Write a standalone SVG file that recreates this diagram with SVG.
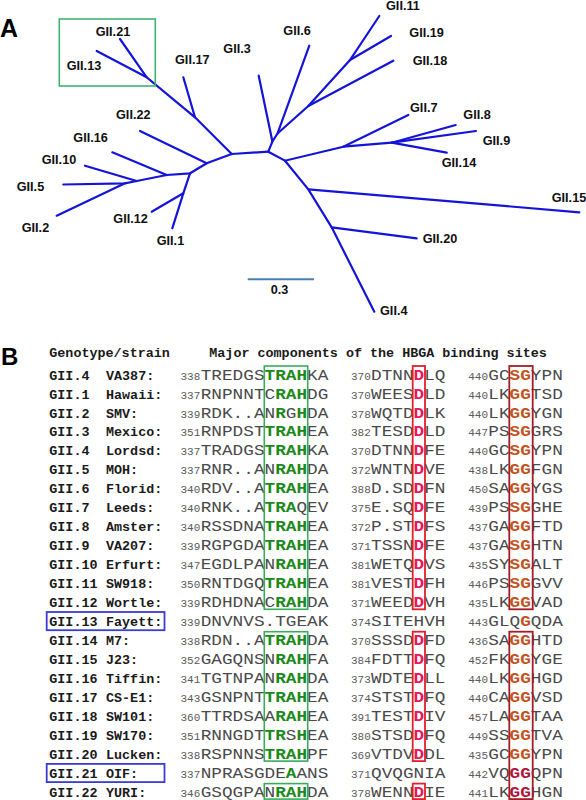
<svg xmlns="http://www.w3.org/2000/svg" width="586" height="800" viewBox="0 0 586 800">
<style>
.pl{font-family:"Liberation Sans",Arial,sans-serif;font-weight:bold;fill:#000}
.lf{font-family:"Liberation Sans",Arial,sans-serif;font-weight:bold;font-size:12.7px;fill:#111}
.br{stroke:#1414d8;stroke-width:2.2;fill:none;stroke-linecap:round}
.hd{font-family:"Liberation Mono","Courier New",monospace;font-weight:bold;font-size:13.4px;fill:#1a1a1a}
.n{font-family:"Liberation Mono","Courier New",monospace;font-size:11px;fill:#5a5a5a;text-anchor:end}
.s{font-family:"Liberation Mono","Courier New",monospace;font-size:14.5px;fill:#4a4a4a}
.g{font-weight:bold;fill:#1a8a1a}
.d{font-weight:bold;fill:#e8185a}
.o{font-weight:bold;fill:#c4521c}
.c{font-weight:bold;fill:#b3123a}
.gb{fill:none;stroke:#3aaa5c;stroke-width:1.6}
.rb{fill:none;stroke:#e02028;stroke-width:1.8}
.kb{fill:none;stroke:#a41c26;stroke-width:1.8}
.bb{fill:none;stroke:#3b3bd6;stroke-width:1.8}
</style>

<text class="pl" x="0" y="36.5" font-size="25">A</text>
<text class="pl" x="1" y="365" font-size="24">B</text>

<!-- Tree connectors -->
<g id="connectors">
<path class="br" d="M231.7,154 L268.3,151.7"/>
<path class="br" d="M231.7,154 L195,117.3 L146.7,77.3 L120,39"/>
<path class="br" d="M146.7,77.3 L96.7,51"/>
<path class="br" d="M195,117.3 L183.3,77.3"/>
<path class="br" d="M231.7,154 L206.7,163.3 L190,173.3 L166.7,175 L136.7,181 L125,183.3 L63.3,184.5"/>
<path class="br" d="M206.7,163.3 L140,131"/>
<path class="br" d="M190,173.3 L183.3,193.3 L172.3,228.3"/>
<path class="br" d="M183.3,193.3 L151.7,211.7"/>
<path class="br" d="M166.7,175 L112.3,152.3"/>
<path class="br" d="M136.7,181 L85,165.7"/>
<path class="br" d="M125,183.3 L56.7,215.7"/>
<path class="br" d="M268.3,151.7 L272.4,141.5 L277.5,133.5 L309.3,45.7"/>
<path class="br" d="M272.4,141.5 L258.7,75.7"/>
<path class="br" d="M277.5,133.5 L308.3,106 L350,60 L379.3,16"/>
<path class="br" d="M350,60 L391,36"/>
<path class="br" d="M308.3,106 L393.3,60.7"/>
<path class="br" d="M268.3,151.7 L285,160.7 L343.3,146.7 L408.3,115"/>
<path class="br" d="M343.3,146.7 L391.7,142.7 L455.7,125"/>
<path class="br" d="M391.7,142.7 L476,131"/>
<path class="br" d="M391.7,142.7 L446.7,152.7"/>
<path class="br" d="M285,160.7 L308.3,189.3 L331.7,227.3 L374.3,311.7"/>
<path class="br" d="M308.3,189.3 L579.3,212.3"/>
<path class="br" d="M331.7,227.3 L416.7,238.3"/>
</g>

<rect x="59.3" y="19" width="96" height="67" fill="none" stroke="#3cb371" stroke-width="1.6"/>

<!-- Tree leaves -->
<g id="GII21"><text class="lf" x="95.7" y="35.7">GII.21</text></g>
<g id="GII13"><text class="lf" x="66.7" y="70">GII.13</text></g>
<g id="GII17"><text class="lf" x="175" y="64.3">GII.17</text></g>
<g id="GII3"><text class="lf" x="223.3" y="52.7">GII.3</text></g>
<g id="GII22"><text class="lf" x="116" y="118.7">GII.22</text></g>
<g id="GII16"><text class="lf" x="73.3" y="142">GII.16</text></g>
<g id="GII10"><text class="lf" x="41.7" y="164">GII.10</text></g>
<g id="GII5"><text class="lf" x="16.7" y="190.7">GII.5</text></g>
<g id="GII2"><text class="lf" x="21.7" y="231.7">GII.2</text></g>
<g id="GII12"><text class="lf" x="113.3" y="223.3">GII.12</text></g>
<g id="GII1"><text class="lf" x="156.7" y="245.3">GII.1</text></g>
<g id="GII6"><text class="lf" x="283.3" y="35">GII.6</text></g>
<g id="GII11"><text class="lf" x="386" y="10">GII.11</text></g>
<g id="GII19"><text class="lf" x="409.3" y="36.7">GII.19</text></g>
<g id="GII18"><text class="lf" x="412.7" y="65">GII.18</text></g>
<g id="GII7"><text class="lf" x="410" y="112">GII.7</text></g>
<g id="GII8"><text class="lf" x="463.3" y="119.3">GII.8</text></g>
<g id="GII9"><text class="lf" x="482.7" y="145">GII.9</text></g>
<g id="GII14"><text class="lf" x="441.7" y="166.7">GII.14</text></g>
<g id="GII15"><text class="lf" x="551.7" y="201.5">GII.15</text></g>
<g id="GII20"><text class="lf" x="422.7" y="243.3">GII.20</text></g>
<g id="GII4"><text class="lf" x="380" y="315">GII.4</text></g>

<g id="scalebar">
<line x1="247.7" y1="279.3" x2="314" y2="279.3" stroke="#4a7fb5" stroke-width="2"/>
<text class="lf" x="270.7" y="294">0.3</text>
</g>

<!-- Part B table -->
<g id="table">
<text class="hd" x="49.3" y="357">Genotype/strain</text>
<text class="hd" x="209.3" y="357">Major components of the HBGA binding sites</text>

<g class="hd">
<text class="hd" x="49.3" y="379.5">GII.4</text><text class="hd" x="106" y="379.5">VA387:</text>
<text class="hd" x="49.3" y="398.5">GII.1</text><text class="hd" x="106" y="398.5">Hawaii:</text>
<text class="hd" x="49.3" y="417.5">GII.2</text><text class="hd" x="106" y="417.5">SMV:</text>
<text class="hd" x="49.3" y="436.4">GII.3</text><text class="hd" x="106" y="436.4">Mexico:</text>
<text class="hd" x="49.3" y="455.4">GII.4</text><text class="hd" x="106" y="455.4">Lordsd:</text>
<text class="hd" x="49.3" y="474.4">GII.5</text><text class="hd" x="106" y="474.4">MOH:</text>
<text class="hd" x="49.3" y="493.4">GII.6</text><text class="hd" x="106" y="493.4">Florid:</text>
<text class="hd" x="49.3" y="512.4">GII.7</text><text class="hd" x="106" y="512.4">Leeds:</text>
<text class="hd" x="49.3" y="531.3">GII.8</text><text class="hd" x="106" y="531.3">Amster:</text>
<text class="hd" x="49.3" y="550.3">GII.9</text><text class="hd" x="106" y="550.3">VA207:</text>
<text class="hd" x="49.3" y="569.3">GII.10</text><text class="hd" x="106" y="569.3">Erfurt:</text>
<text class="hd" x="49.3" y="588.3">GII.11</text><text class="hd" x="106" y="588.3">SW918:</text>
<text class="hd" x="49.3" y="607.3">GII.12</text><text class="hd" x="106" y="607.3">Wortle:</text>
<text class="hd" x="49.3" y="626.2">GII.13</text><text class="hd" x="106" y="626.2">Fayett:</text>
<text class="hd" x="49.3" y="645.2">GII.14</text><text class="hd" x="106" y="645.2">M7:</text>
<text class="hd" x="49.3" y="664.2">GII.15</text><text class="hd" x="106" y="664.2">J23:</text>
<text class="hd" x="49.3" y="683.2">GII.16</text><text class="hd" x="106" y="683.2">Tiffin:</text>
<text class="hd" x="49.3" y="702.2">GII.17</text><text class="hd" x="106" y="702.2">CS-E1:</text>
<text class="hd" x="49.3" y="721.1">GII.18</text><text class="hd" x="106" y="721.1">SW101:</text>
<text class="hd" x="49.3" y="740.1">GII.19</text><text class="hd" x="106" y="740.1">SW170:</text>
<text class="hd" x="49.3" y="759.1">GII.20</text><text class="hd" x="106" y="759.1">Lucken:</text>
<text class="hd" x="49.3" y="778.1">GII.21</text><text class="hd" x="106" y="778.1">OIF:</text>
<text class="hd" x="49.3" y="797.1">GII.22</text><text class="hd" x="106" y="797.1">YURI:</text>
</g>

<rect class="bb" x="46.7" y="612" width="117.8" height="18.2"/>
<rect class="bb" x="46.7" y="763.9" width="117.8" height="18.2"/>

<!-- numbers -->
<g>
<text class="n" x="200.3" y="379.5">338</text><text class="n" x="370.8" y="379.5">370</text><text class="n" x="488" y="379.5">440</text>
<text class="n" x="200.3" y="398.5">337</text><text class="n" x="370.8" y="398.5">370</text><text class="n" x="488" y="398.5">440</text>
<text class="n" x="200.3" y="417.5">339</text><text class="n" x="370.8" y="417.5">378</text><text class="n" x="488" y="417.5">440</text>
<text class="n" x="200.3" y="436.4">351</text><text class="n" x="370.8" y="436.4">382</text><text class="n" x="488" y="436.4">447</text>
<text class="n" x="200.3" y="455.4">337</text><text class="n" x="370.8" y="455.4">370</text><text class="n" x="488" y="455.4">440</text>
<text class="n" x="200.3" y="474.4">337</text><text class="n" x="370.8" y="474.4">372</text><text class="n" x="488" y="474.4">438</text>
<text class="n" x="200.3" y="493.4">340</text><text class="n" x="370.8" y="493.4">388</text><text class="n" x="488" y="493.4">450</text>
<text class="n" x="200.3" y="512.4">340</text><text class="n" x="370.8" y="512.4">375</text><text class="n" x="488" y="512.4">439</text>
<text class="n" x="200.3" y="531.3">340</text><text class="n" x="370.8" y="531.3">372</text><text class="n" x="488" y="531.3">437</text>
<text class="n" x="200.3" y="550.3">339</text><text class="n" x="370.8" y="550.3">371</text><text class="n" x="488" y="550.3">437</text>
<text class="n" x="200.3" y="569.3">347</text><text class="n" x="370.8" y="569.3">381</text><text class="n" x="488" y="569.3">435</text>
<text class="n" x="200.3" y="588.3">350</text><text class="n" x="370.8" y="588.3">381</text><text class="n" x="488" y="588.3">446</text>
<text class="n" x="200.3" y="607.3">339</text><text class="n" x="370.8" y="607.3">371</text><text class="n" x="488" y="607.3">435</text>
<text class="n" x="200.3" y="626.2">339</text><text class="n" x="370.8" y="626.2">374</text><text class="n" x="488" y="626.2">443</text>
<text class="n" x="200.3" y="645.2">338</text><text class="n" x="370.8" y="645.2">370</text><text class="n" x="488" y="645.2">436</text>
<text class="n" x="200.3" y="664.2">352</text><text class="n" x="370.8" y="664.2">384</text><text class="n" x="488" y="664.2">452</text>
<text class="n" x="200.3" y="683.2">341</text><text class="n" x="370.8" y="683.2">373</text><text class="n" x="488" y="683.2">440</text>
<text class="n" x="200.3" y="702.2">343</text><text class="n" x="370.8" y="702.2">374</text><text class="n" x="488" y="702.2">440</text>
<text class="n" x="200.3" y="721.1">360</text><text class="n" x="370.8" y="721.1">391</text><text class="n" x="488" y="721.1">457</text>
<text class="n" x="200.3" y="740.1">351</text><text class="n" x="370.8" y="740.1">380</text><text class="n" x="488" y="740.1">449</text>
<text class="n" x="200.3" y="759.1">338</text><text class="n" x="370.8" y="759.1">369</text><text class="n" x="488" y="759.1">435</text>
<text class="n" x="200.3" y="778.1">337</text><text class="n" x="370.8" y="778.1">371</text><text class="n" x="488" y="778.1">442</text>
<text class="n" x="200.3" y="797.1">346</text><text class="n" x="370.8" y="797.1">378</text><text class="n" x="488" y="797.1">441</text>
</g>

<!-- column 1 sequences -->
<g>
<text class="s" transform="translate(200.7,379.5) scale(1.223,1)">TREDGS<tspan class="g">TRAH</tspan>KA</text>
<text class="s" transform="translate(200.7,398.5) scale(1.223,1)">RNPNNTC<tspan class="g">RAH</tspan>DG</text>
<text class="s" transform="translate(200.7,417.5) scale(1.223,1)">RDK..AN<tspan class="g">R</tspan>G<tspan class="g">H</tspan>DA</text>
<text class="s" transform="translate(200.7,436.4) scale(1.223,1)">RNPDST<tspan class="g">TRAH</tspan>EA</text>
<text class="s" transform="translate(200.7,455.4) scale(1.223,1)">TRADGS<tspan class="g">TRAH</tspan>KA</text>
<text class="s" transform="translate(200.7,474.4) scale(1.223,1)">RNR..AN<tspan class="g">RAH</tspan>DA</text>
<text class="s" transform="translate(200.7,493.4) scale(1.223,1)">RDV..A<tspan class="g">TRAH</tspan>EA</text>
<text class="s" transform="translate(200.7,512.4) scale(1.223,1)">RNK..A<tspan class="g">TRA</tspan>QEV</text>
<text class="s" transform="translate(200.7,531.3) scale(1.223,1)">RSSDNA<tspan class="g">TRAH</tspan>EA</text>
<text class="s" transform="translate(200.7,550.3) scale(1.223,1)">RGPGDA<tspan class="g">TRAH</tspan>EA</text>
<text class="s" transform="translate(200.7,569.3) scale(1.223,1)">EGDLPAN<tspan class="g">RAH</tspan>EA</text>
<text class="s" transform="translate(200.7,588.3) scale(1.223,1)">RNTDGQ<tspan class="g">TRAH</tspan>EA</text>
<text class="s" transform="translate(200.7,607.3) scale(1.223,1)">RDHDNAC<tspan class="g">RAH</tspan>DA</text>
<text class="s" transform="translate(200.7,626.2) scale(1.223,1)">DNVNVS.TGEAK</text>
<text class="s" transform="translate(200.7,645.2) scale(1.223,1)">RDN..A<tspan class="g">TRAH</tspan>DA</text>
<text class="s" transform="translate(200.7,664.2) scale(1.223,1)">GAGQNSN<tspan class="g">RAH</tspan>FA</text>
<text class="s" transform="translate(200.7,683.2) scale(1.223,1)">TGTNPAN<tspan class="g">RAH</tspan>DA</text>
<text class="s" transform="translate(200.7,702.2) scale(1.223,1)">GSNPNT<tspan class="g">TRAH</tspan>EA</text>
<text class="s" transform="translate(200.7,721.1) scale(1.223,1)">TTRDSAA<tspan class="g">RAH</tspan>EA</text>
<text class="s" transform="translate(200.7,740.1) scale(1.223,1)">RNNGDT<tspan class="g">TR</tspan>S<tspan class="g">H</tspan>EA</text>
<text class="s" transform="translate(200.7,759.1) scale(1.223,1)">RSPNNS<tspan class="g">TRAH</tspan>PF</text>
<text class="s" transform="translate(200.7,778.1) scale(1.223,1)">NPRASGDE<tspan class="g">A</tspan>ANS</text>
<text class="s" transform="translate(200.7,797.1) scale(1.223,1)">GSQGPAN<tspan class="g">RAH</tspan>DA</text>
</g>

<!-- column 2 sequences -->
<g>
<text class="s" transform="translate(371,379.5) scale(1.223,1)">DTNN<tspan class="d">D</tspan>LQ</text>
<text class="s" transform="translate(371,398.5) scale(1.223,1)">WEES<tspan class="d">D</tspan>LD</text>
<text class="s" transform="translate(371,417.5) scale(1.223,1)">WQTD<tspan class="d">D</tspan>LK</text>
<text class="s" transform="translate(371,436.4) scale(1.223,1)">TESD<tspan class="d">D</tspan>LD</text>
<text class="s" transform="translate(371,455.4) scale(1.223,1)">DTNN<tspan class="d">D</tspan>FE</text>
<text class="s" transform="translate(371,474.4) scale(1.223,1)">WNTN<tspan class="d">D</tspan>VE</text>
<text class="s" transform="translate(371,493.4) scale(1.223,1)">D.SD<tspan class="d">D</tspan>FN</text>
<text class="s" transform="translate(371,512.4) scale(1.223,1)">E.SQ<tspan class="d">D</tspan>FE</text>
<text class="s" transform="translate(371,531.3) scale(1.223,1)">P.ST<tspan class="d">D</tspan>FS</text>
<text class="s" transform="translate(371,550.3) scale(1.223,1)">TSSN<tspan class="d">D</tspan>FE</text>
<text class="s" transform="translate(371,569.3) scale(1.223,1)">WETQ<tspan class="d">D</tspan>VS</text>
<text class="s" transform="translate(371,588.3) scale(1.223,1)">VEST<tspan class="d">D</tspan>FH</text>
<text class="s" transform="translate(371,607.3) scale(1.223,1)">WEED<tspan class="d">D</tspan>VH</text>
<text class="s" transform="translate(371,626.2) scale(1.223,1)">SITEHVH</text>
<text class="s" transform="translate(371,645.2) scale(1.223,1)">SSSD<tspan class="d">D</tspan>FD</text>
<text class="s" transform="translate(371,664.2) scale(1.223,1)">FDTT<tspan class="d">D</tspan>FQ</text>
<text class="s" transform="translate(371,683.2) scale(1.223,1)">WDTE<tspan class="d">D</tspan>LL</text>
<text class="s" transform="translate(371,702.2) scale(1.223,1)">STST<tspan class="d">D</tspan>FQ</text>
<text class="s" transform="translate(371,721.1) scale(1.223,1)">TEST<tspan class="d">D</tspan>IV</text>
<text class="s" transform="translate(371,740.1) scale(1.223,1)">STSD<tspan class="d">D</tspan>FQ</text>
<text class="s" transform="translate(371,759.1) scale(1.223,1)">VTDV<tspan class="d">D</tspan>DL</text>
<text class="s" transform="translate(371,778.1) scale(1.223,1)">QVQGNIA</text>
<text class="s" transform="translate(371,797.1) scale(1.223,1)">WENN<tspan class="d">D</tspan>IE</text>
</g>

<!-- column 3 sequences -->
<g>
<text class="s" transform="translate(488.3,379.5) scale(1.223,1)">GC<tspan class="o">SG</tspan>YPN</text>
<text class="s" transform="translate(488.3,398.5) scale(1.223,1)">LK<tspan class="o">GG</tspan>TSD</text>
<text class="s" transform="translate(488.3,417.5) scale(1.223,1)">LK<tspan class="o">GG</tspan>YGN</text>
<text class="s" transform="translate(488.3,436.4) scale(1.223,1)">PS<tspan class="o">SG</tspan>GRS</text>
<text class="s" transform="translate(488.3,455.4) scale(1.223,1)">GC<tspan class="o">SG</tspan>YPN</text>
<text class="s" transform="translate(488.3,474.4) scale(1.223,1)">LK<tspan class="o">GG</tspan>FGN</text>
<text class="s" transform="translate(488.3,493.4) scale(1.223,1)">SA<tspan class="o">GG</tspan>YGS</text>
<text class="s" transform="translate(488.3,512.4) scale(1.223,1)">PS<tspan class="o">SG</tspan>GHE</text>
<text class="s" transform="translate(488.3,531.3) scale(1.223,1)">GA<tspan class="o">GG</tspan>FTD</text>
<text class="s" transform="translate(488.3,550.3) scale(1.223,1)">GA<tspan class="o">SG</tspan>HTN</text>
<text class="s" transform="translate(488.3,569.3) scale(1.223,1)">SY<tspan class="o">SG</tspan>ALT</text>
<text class="s" transform="translate(488.3,588.3) scale(1.223,1)">PS<tspan class="o">SG</tspan>GVV</text>
<text class="s" transform="translate(488.3,607.3) scale(1.223,1)">LK<tspan class="o">GG</tspan>VAD</text>
<text class="s" transform="translate(488.3,626.2) scale(1.223,1)">GLQ<tspan class="o">G</tspan>QDA</text>
<text class="s" transform="translate(488.3,645.2) scale(1.223,1)">SA<tspan class="o">GG</tspan>HTD</text>
<text class="s" transform="translate(488.3,664.2) scale(1.223,1)">FK<tspan class="o">GG</tspan>YGE</text>
<text class="s" transform="translate(488.3,683.2) scale(1.223,1)">LK<tspan class="o">GG</tspan>HGD</text>
<text class="s" transform="translate(488.3,702.2) scale(1.223,1)">CA<tspan class="o">GG</tspan>VSD</text>
<text class="s" transform="translate(488.3,721.1) scale(1.223,1)">LA<tspan class="o">GG</tspan>TAA</text>
<text class="s" transform="translate(488.3,740.1) scale(1.223,1)">SS<tspan class="o">GG</tspan>TVA</text>
<text class="s" transform="translate(488.3,759.1) scale(1.223,1)">GC<tspan class="o">GG</tspan>YPN</text>
<text class="s" transform="translate(488.3,778.1) scale(1.223,1)">VQ<tspan class="c">GG</tspan>QPN</text>
<text class="s" transform="translate(488.3,797.1) scale(1.223,1)">LK<tspan class="c">GG</tspan>HGN</text>
</g>

<!-- highlight boxes -->
<rect class="gb" x="264.3" y="366" width="43.4" height="243.3"/>
<rect class="gb" x="264.3" y="631.7" width="43.4" height="129.4"/>
<rect class="gb" x="264.3" y="783.6" width="43.4" height="15.5"/>
<rect class="rb" x="412.7" y="366" width="12.3" height="243.3"/>
<rect class="rb" x="412.7" y="631.7" width="12.3" height="129.4"/>
<rect class="rb" x="412.7" y="783.6" width="12.3" height="15.5"/>
<rect class="kb" x="509.3" y="366" width="23.4" height="243.3"/>
<rect class="kb" x="509.3" y="631.7" width="23.4" height="167.4"/>
</g>
</svg>
